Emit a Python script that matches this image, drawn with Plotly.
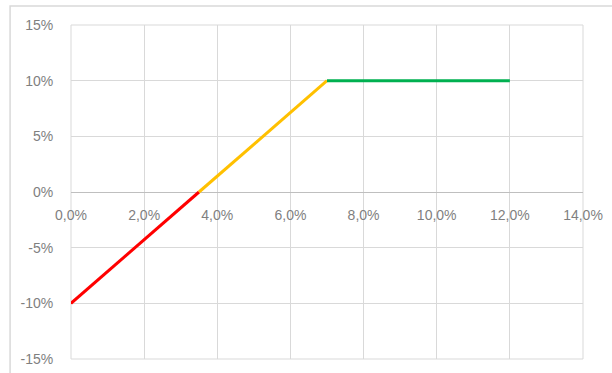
import plotly.graph_objects as go

# Data (fractions)
red_x = [0.0, 0.035]
red_y = [-0.10, 0.0]
yellow_x = [0.035, 0.07]
yellow_y = [0.0, 0.10]
green_x = [0.07, 0.12]
green_y = [0.10, 0.10]

x_ticks = [0.0, 0.02, 0.04, 0.06, 0.08, 0.10, 0.12, 0.14]
x_labels = ["0,0%", "2,0%", "4,0%", "6,0%", "8,0%", "10,0%", "12,0%", "14,0%"]
y_ticks = [-0.15, -0.10, -0.05, 0.0, 0.05, 0.10, 0.15]
y_labels = ["-15%", "-10%", "-5%", "0%", "5%", "10%", "15%"]

fig = go.Figure()
for xs, ys, col in [(red_x, red_y, "#FF0000"), (yellow_x, yellow_y, "#FFC000"), (green_x, green_y, "#00B050")]:
    fig.add_trace(go.Scatter(x=xs, y=ys, mode="lines", line=dict(color=col, width=3), showlegend=False, hoverinfo="skip"))

grid = "#D9D9D9"
txt = "#7F7F7F"
fig.update_layout(
    width=612, height=373,
    margin=dict(l=71, r=29, t=25, b=14, autoexpand=False),
    paper_bgcolor="white", plot_bgcolor="white",
    font=dict(family="Liberation Sans, Arial, sans-serif", size=14, color=txt),
    xaxis=dict(range=[0, 0.14], tickvals=x_ticks, ticktext=x_labels, showgrid=True, gridcolor=grid, gridwidth=1,
               zeroline=False, showline=False, anchor="free", position=0.5, automargin=False,
               ticks="outside", ticklen=10, tickcolor="rgba(0,0,0,0)", fixedrange=True),
    yaxis=dict(range=[-0.15, 0.15], tickvals=y_ticks, ticktext=y_labels, showgrid=True, gridcolor=grid, gridwidth=1,
               zeroline=True, zerolinecolor="#BFBFBF", zerolinewidth=1, showline=False, automargin=False,
               ticks="outside", ticklen=14, tickcolor="rgba(0,0,0,0)", fixedrange=True),
    shapes=[
        dict(type="rect", xref="paper", yref="paper", x0=0, x1=1, y0=0, y1=1, line=dict(color=grid, width=1), layer="below"),
        dict(type="rect", xref="paper", yref="paper", x0=-0.119, x1=1.2, y0=-0.2, y1=1.057, line=dict(color=grid, width=1.5), layer="below"),
    ],
)
fig.write_html("out.html")
